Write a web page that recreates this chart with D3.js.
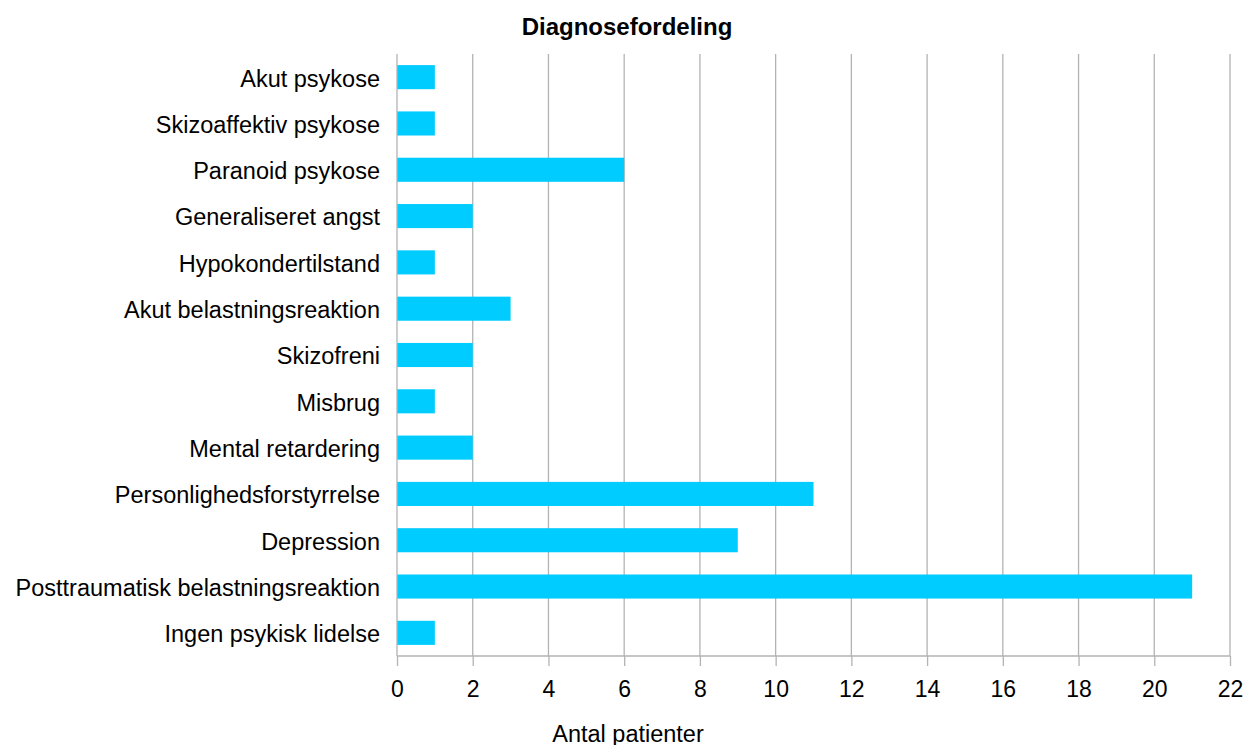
<!DOCTYPE html>
<html lang="da">
<head>
    <meta charset="UTF-8">
    <title>Diagnosefordeling</title>
    <script src="https://cdn.jsdelivr.net/npm/d3@7"></script>
    <style>
        body, html { margin: 0; padding: 0; background: #fff; overflow: hidden; }
        svg { display: block; font-family: "Liberation Sans", Arial, sans-serif; }
    </style>
</head>
<body>
    <svg id="mainsvg"></svg>
    <script>
        // data, top to bottom
        const categories = [
            'Akut psykose', 'Skizoaffektiv psykose', 'Paranoid psykose', 'Generaliseret angst',
            'Hypokondertilstand', 'Akut belastningsreaktion', 'Skizofreni', 'Misbrug',
            'Mental retardering', 'Personlighedsforstyrrelse', 'Depression',
            'Posttraumatisk belastningsreaktion', 'Ingen psykisk lidelse'
        ];
        const values = [1, 1, 6, 2, 1, 3, 2, 1, 2, 11, 9, 21, 1];
        const xTicks = [0, 2, 4, 6, 8, 10, 12, 14, 16, 18, 20, 22];

        const width = 1247, height = 745;
        const svg = d3.select('svg').attr('width', width).attr('height', height);

        const margin = { top: 54, right: 17, bottom: 89, left: 397 };
        const innerWidth = width - margin.left - margin.right;
        const innerHeight = height - margin.top - margin.bottom;

        const g = svg.append('g').attr('transform', `translate(${margin.left}, ${margin.top})`);

        const xScale = d3.scaleLinear().domain([0, 22]).range([0, innerWidth]);
        const yScale = d3.scaleBand().domain(categories).range([0, innerHeight]).paddingInner(0.48).paddingOuter(0.24);

        // vertical grid lines
        g.selectAll('.grid').data(xTicks.filter(d => d > 0)).enter().append('line')
            .attr('class', 'grid')
            .attr('x1', d => xScale(d)).attr('x2', d => xScale(d))
            .attr('y1', 0).attr('y2', innerHeight)
            .attr('stroke', '#b3b3b3').attr('stroke-width', 1.3);

        // bars
        g.selectAll('rect').data(values).enter().append('rect')
            .attr('x', 0)
            .attr('y', (d, i) => yScale(categories[i]))
            .attr('height', yScale.bandwidth())
            .attr('width', d => xScale(d))
            .attr('fill', '#00ccff');

        // x axis
        const xAxis = d3.axisBottom(xScale).tickValues(xTicks).tickSize(10).tickPadding(15);
        const xAxisGroup = g.append('g').attr('transform', `translate(0, ${innerHeight})`).call(xAxis);
        xAxisGroup.select('.domain').attr('stroke', '#b3b3b3').attr('stroke-width', 1.3).attr('d', `M0,0H${innerWidth}`);
        xAxisGroup.selectAll('.tick line').attr('stroke', '#b3b3b3').attr('stroke-width', 1.3);
        xAxisGroup.selectAll('.tick text').attr('font-size', '23px').attr('fill', '#000')
            .attr('font-family', '"Liberation Sans", Arial, sans-serif');

        // y axis
        const yAxis = d3.axisLeft(yScale).tickSize(0).tickPadding(17);
        const yAxisGroup = g.append('g').call(yAxis);
        yAxisGroup.select('.domain').attr('stroke', '#b3b3b3').attr('stroke-width', 1.3).attr('d', `M0,0V${innerHeight}`);
        yAxisGroup.selectAll('.tick text').attr('font-size', '23.5px').attr('fill', '#000')
            .attr('dy', '0.4em')
            .attr('font-family', '"Liberation Sans", Arial, sans-serif');

        // titles
        svg.append('text')
            .attr('x', 627).attr('y', 35)
            .attr('text-anchor', 'middle')
            .attr('font-size', '24px').attr('font-weight', 'bold')
            .text('Diagnosefordeling');

        svg.append('text')
            .attr('x', 628).attr('y', 742)
            .attr('text-anchor', 'middle')
            .attr('font-size', '23.5px')
            .text('Antal patienter');
    </script>
</body>
</html>
